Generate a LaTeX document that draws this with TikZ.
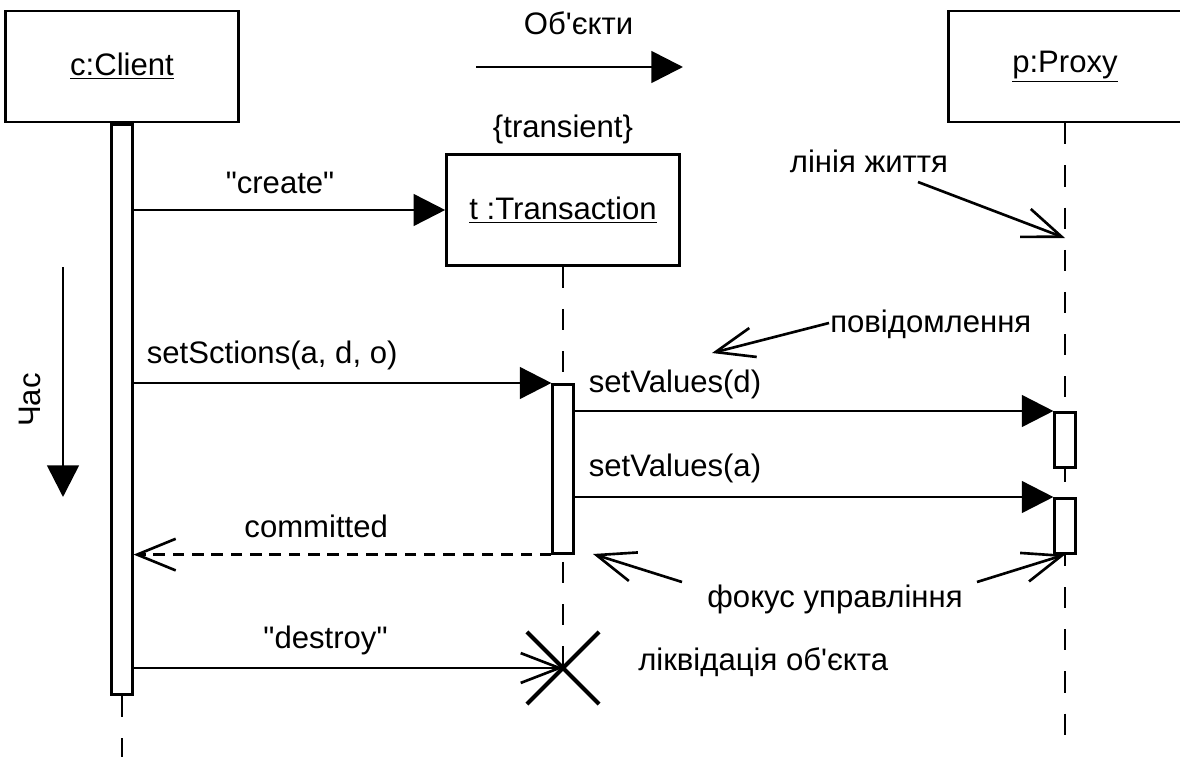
\documentclass[tikz,border=0pt]{standalone}
\usepackage{fontspec}
\setmainfont{Liberation Sans}
\usetikzlibrary{positioning}
\usetikzlibrary{arrows.meta}
\usetikzlibrary{shapes.misc}

\begin{document}
\begin{tikzpicture}[x=0.02cm, y=-0.02cm, line width=1.5pt,
	font=\fontsize{17.7}{21}\selectfont,
	object/.style={draw, minimum width=4.66cm, minimum height=2.22cm, inner sep=0pt},
	activation/.style={draw, fill=white, minimum width=0.41cm, inner sep=0pt, anchor=north},
	lifeline/.style={dash pattern=on 12pt off 12pt},
	call/.style={-{Triangle[length=18pt, width=18pt]}},
	reply/.style={dash pattern=on 6.5pt off 4.5pt, -{Straight Barb[length=22pt, width=18pt]}},
	pointer/.style={-{Straight Barb[length=22pt, width=17pt]}},
	txt/.style={anchor=base, inner sep=0pt}]
	\useasboundingbox (0,0) rectangle (1180,757);

	% objects
	\node [object] (client) at (122,66.5) {\underline{c:Client}};
	\node [object] (trans) at (563,210) {\underline{t :Transaction}};
	\node [object] (proxy) at (1065,66.5) {\underline{p:Proxy}};
	\node [inner sep=0pt, above=0.15cm of trans] (transient) {\{transient\}};

	% lifelines
	\coordinate (cend) at (122,757);
	\coordinate (pend) at (1065,735);
	\node [draw, cross out, line width=2.4pt, minimum size=1.36cm, inner sep=0pt] (kill) at (563,668) {};
	\draw [lifeline] (trans.south) -- (kill.center);
	\draw [lifeline] (proxy.south) -- (pend);

	\node [activation, minimum height=11.4cm] (cact) at (client.south) {};
	\node [activation, minimum height=3.38cm] (tact) at (563,383) {};
	\node [activation, minimum height=1.1cm] (pact1) at (1065,411) {};
	\node [activation, minimum height=1.1cm] (pact2) at (1065,497) {};
	\draw [lifeline] (cact.south) -- (cend);

	% messages
	\draw [call] (cact.east |- trans.west) -- (trans.west)
		node [txt, pos=0.47, yshift=0.34cm] {\textquotedbl create\textquotedbl};
	\draw [call] (cact.east |- tact.north) -- (tact.north west)
		node [txt, pos=0, anchor=base west, xshift=0.24cm, yshift=0.4cm] {setSctions(a, d, o)};
	\draw [call] (tact.east |- pact1.north) -- (pact1.north west)
		node [txt, pos=0, anchor=base west, xshift=0.26cm, yshift=0.38cm] {setValues(d)};
	\draw [call] (tact.east |- pact2.north) -- (pact2.north west)
		node [txt, pos=0, anchor=base west, xshift=0.26cm, yshift=0.42cm] {setValues(a)};
	\draw [reply] (tact.south west) -- (cact.east |- tact.south)
		node [txt, pos=0.563, yshift=0.34cm] {committed};
	\draw [pointer] (cact.east |- kill) -- (kill.center)
		node [txt, pos=0.447, yshift=0.4cm] {\textquotedbl destroy\textquotedbl};

	% notes
	\node [txt] (objlbl) at (578.5,35) {Об\textquotesingle єкти};
	\coordinate (objs) at (476,67);
	\coordinate (obje) at (683,67);
	\draw [call] (objs) -- (obje);

	\node [rotate=90, inner sep=0pt] (timelbl) at (30,400) {Час};
	\coordinate (times) at (63,267);
	\coordinate (timee) at (63,497);
	\draw [call] (times) -- (timee);

	\node [txt] (lifelbl) at (869,173) {лінія життя};
	\coordinate (lifes) at (918,182);
	\coordinate (lifee) at (1065,238);
	\draw [pointer] (lifes) -- (lifee);

	\node [txt, anchor=base west] (msglbl) at (829,332) {повідомлення};
	\coordinate (msgs) at (829,323);
	\coordinate (msge) at (712,353);
	\draw [pointer] (msgs) -- (msge);

	\node [txt] (focuslbl) at (835,607) {фокус управління};
	\coordinate (focusl) at (682,582);
	\coordinate (focust) at (593,554);
	\coordinate (focusr) at (977,582);
	\draw [pointer] (focusl) -- (focust);
	\draw [pointer] (focusr) -- (pact2.south);

	\node [txt, anchor=base west] (killlbl) at (637,670) {ліквідація об\textquotesingle єкта};
\end{tikzpicture}
\end{document}
